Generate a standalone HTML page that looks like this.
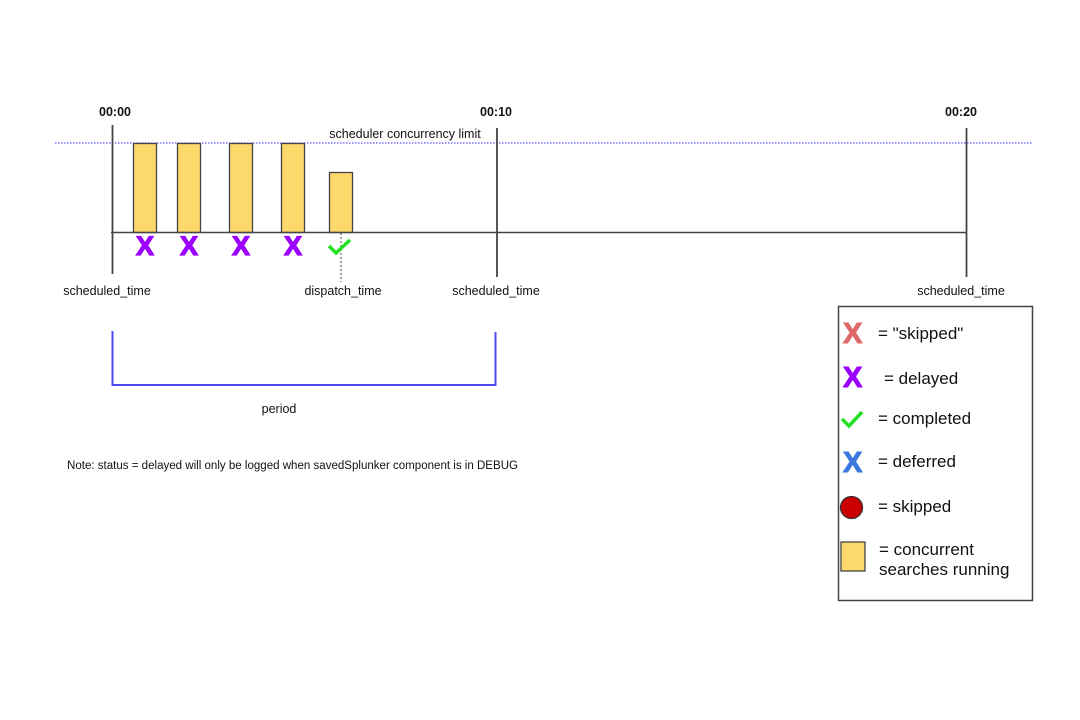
<!DOCTYPE html>
<html><head><meta charset="utf-8"><style>
html,body{margin:0;padding:0;background:#fff;}
svg{display:block;}
text{font-family:"Liberation Sans",Arial,sans-serif;fill:#111;}
</style></head><body>
<svg width="1080" height="720" viewBox="0 0 1080 720" xmlns="http://www.w3.org/2000/svg">
<rect width="1080" height="720" fill="#fff"/>
<line x1="55" y1="143" x2="1033" y2="143" stroke="#5a5aff" stroke-width="1.2" stroke-dasharray="1.5,1.5"/>
<text x="405" y="138" font-size="12.5" text-anchor="middle">scheduler concurrency limit</text>
<text x="115" y="116" font-size="12.5" font-weight="bold" text-anchor="middle">00:00</text>
<text x="496" y="116" font-size="12.5" font-weight="bold" text-anchor="middle">00:10</text>
<text x="961" y="116" font-size="12.5" font-weight="bold" text-anchor="middle">00:20</text>
<g fill="#fdd96b" stroke="#444" stroke-width="1.3">
<rect x="133.5" y="143.5" width="23" height="89"/>
<rect x="177.5" y="143.5" width="23" height="89"/>
<rect x="229.5" y="143.5" width="23" height="89"/>
<rect x="281.5" y="143.5" width="23" height="89"/>
<rect x="329.5" y="172.5" width="23" height="60"/>
</g>
<line x1="111" y1="232.5" x2="967" y2="232.5" stroke="#444" stroke-width="1.5"/>
<line x1="112.5" y1="125" x2="112.5" y2="274" stroke="#444" stroke-width="1.8"/>
<line x1="497" y1="128" x2="497" y2="277" stroke="#444" stroke-width="1.8"/>
<line x1="966.5" y1="128" x2="966.5" y2="277" stroke="#444" stroke-width="1.8"/>
<line x1="341" y1="233" x2="341" y2="282" stroke="#444" stroke-width="1" stroke-dasharray="2,2"/>
<g font-size="27" font-weight="bold" text-anchor="middle" stroke="#9b00ff" stroke-width="1.2">
<text x="145" y="255" style="fill:#9b00ff">X</text>
<text x="189" y="255" style="fill:#9b00ff">X</text>
<text x="241" y="255" style="fill:#9b00ff">X</text>
<text x="293" y="255" style="fill:#9b00ff">X</text>
</g>
<path d="M329 246 L336 253 L350 240" fill="none" stroke="#22e022" stroke-width="3.5"/>
<text x="107" y="295" font-size="12.5" text-anchor="middle">scheduled_time</text>
<text x="343" y="295" font-size="12.5" text-anchor="middle">dispatch_time</text>
<text x="496" y="295" font-size="12.5" text-anchor="middle">scheduled_time</text>
<text x="961" y="295" font-size="12.5" text-anchor="middle">scheduled_time</text>
<path d="M112.5 331 V385 H495.5 V332" fill="none" stroke="#4a4af0" stroke-width="2"/>
<text x="279" y="413" font-size="12.5" text-anchor="middle">period</text>
<text x="67" y="469" font-size="11.5" textLength="451" lengthAdjust="spacingAndGlyphs">Note: status = delayed will only be logged when savedSplunker component is in DEBUG</text>
<rect x="838.5" y="306.5" width="194" height="294" fill="#fff" stroke="#444" stroke-width="1.5"/>
<g font-size="17">
<text x="843" y="343" font-size="29" font-weight="bold" stroke="#e06a6a" stroke-width="1" style="fill:#e06a6a">X</text>
<text x="878" y="339">= "skipped"</text>
<text x="843" y="387" font-size="29" font-weight="bold" stroke="#9b00ff" stroke-width="1" style="fill:#9b00ff">X</text>
<text x="884" y="384">= delayed</text>
<path d="M842 419 L849 426 L862 412" fill="none" stroke="#22e022" stroke-width="3.5"/>
<text x="878" y="424">= completed</text>
<text x="843" y="472" font-size="29" font-weight="bold" stroke="#3a78e0" stroke-width="1" style="fill:#3a78e0">X</text>
<text x="878" y="467">= deferred</text>
<circle cx="851.5" cy="507.5" r="11" fill="#cc0000" stroke="#333" stroke-width="1.3"/>
<text x="878" y="512">= skipped</text>
<rect x="841" y="542" width="24" height="29" fill="#fdd96b" stroke="#444" stroke-width="1.3"/>
<text x="879" y="555">= concurrent</text>
<text x="879" y="575">searches running</text>
</g>
</svg>
</body></html>
